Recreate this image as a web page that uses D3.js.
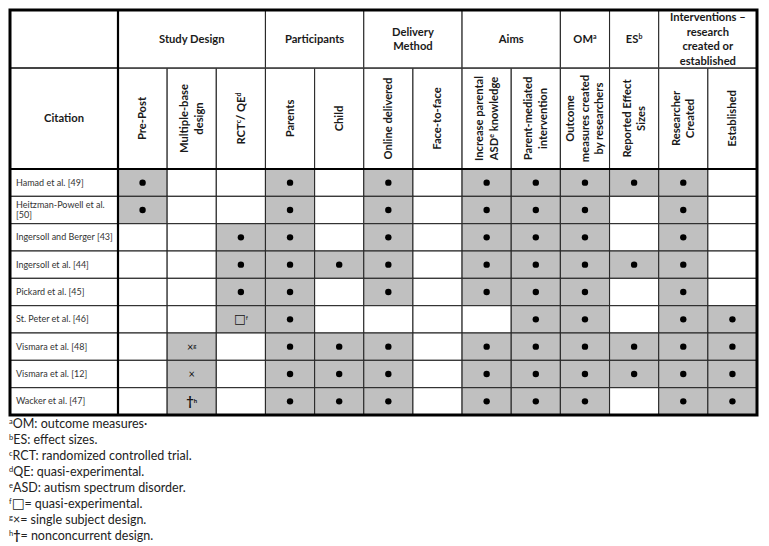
<!DOCTYPE html>
<html><head><meta charset="utf-8">
<script src="https://cdn.jsdelivr.net/npm/d3@7"></script>
<style>body{margin:0;background:#fff}svg{display:block}text{font-family:Lato,"Open Sans",sans-serif}</style>
</head><body><svg id="c" width="769" height="546"></svg>
<script>
// ---- data ----
const citations = ["Hamad et al. [49]","Heitzman-Powell et al.|[50]","Ingersoll and Berger [43]","Ingersoll et al. [44]","Pickard et al. [45]","St. Peter et al. [46]","Vismara et al. [48]","Vismara et al. [12]","Wacker et al. [47]"];
const columns = ["Pre-Post","Multiple-base|design","RCT^c^/ QE^d^","Parents","Child","Online delivered","Face-to-face","Increase parental|ASD^e^ knowledge","Parent-mediated|intervention","Outcome|measures created|by researchers","Reported Effect|Sizes","Researcher|Created","Established"];
const groups = [
  {label:"Study Design", span:3},
  {label:"Participants", span:2},
  {label:"Delivery|Method", span:2},
  {label:"Aims", span:2},
  {label:"OM^a^", span:1},
  {label:"ES^b^", span:1},
  {label:"Interventions –|research|created or|established", span:2}
];
// marks: D = dot, S = square (quasi-experimental), X = single subject, XG = × with note g, T = dagger, "" = none
const marks = [
  ["D","","","D","","D","","D","D","D","D","D",""],
  ["D","","","D","","D","","D","D","D","","D",""],
  ["","","D","D","","D","","D","D","D","","D",""],
  ["","","D","D","D","D","","D","D","D","D","D",""],
  ["","","D","D","","D","","D","D","D","","D",""],
  ["","","S","D","","","","","D","D","","D","D"],
  ["","XG","","D","D","D","","D","D","D","D","D","D"],
  ["","X","","D","D","D","","D","D","D","D","D","D"],
  ["","T","","D","D","D","","D","D","D","","D","D"]
];
const symbolText = {S:"□^f^", XG:"×^g^", X:"×", T:"†^h^"};
const footnotes = ["^a^OM: outcome measures·","^b^ES: effect sizes.","^c^RCT: randomized controlled trial.","^d^QE: quasi-experimental.","^e^ASD: autism spectrum disorder.","^f^□= quasi-experimental.","^g^×= single subject design.","^h^†= nonconcurrent design."];

// ---- layout ----
const L = 10, R = 757, T = 10, H1 = 68, H2 = 169, B = 415, CIT = 118;
const svg = d3.select("#c");
const x = d3.scaleBand().domain(d3.range(columns.length)).range([CIT, R]);
const y = d3.scaleBand().domain(d3.range(citations.length)).range([H2, B]);
const GRAY = "#c0c0c0", LINE = "#2a2a2a";

function addRich(sel, str, supSize){
  str.split("^").forEach((s,i)=>{
    if(!s) return;
    const t = sel.append("tspan").text(s);
    if(i%2===1){ t.attr("font-size", supSize).attr("baseline-shift","super"); }
    else if(s==="□"){ t.attr("font-size", 12.5).attr("font-family","DejaVu Sans"); }
  });
}

// body cells
const rows = svg.append("g").selectAll("g").data(marks).join("g");
rows.each(function(row, ri){
  const g = d3.select(this);
  row.forEach((m, ci)=>{
    g.append("rect").attr("x", x(ci)).attr("y", y(ri)).attr("width", x.bandwidth()).attr("height", y.bandwidth())
      .attr("fill", m ? GRAY : "#fff").attr("stroke", LINE).attr("stroke-width", 1.1);
    const cx = x(ci) + x.bandwidth()/2, cy = y(ri) + y.bandwidth()/2;
    if(m === "D"){
      g.append("circle").attr("cx", cx).attr("cy", cy).attr("r", 3.2).attr("fill", "#000");
    } else if(m){
      const t = g.append("text").attr("x", cx).attr("y", cy).attr("dy","0.35em").attr("text-anchor","middle")
        .attr("font-size", m==="T"?13:11).attr("font-weight", m==="T"?700:400).attr("fill","#111");
      addRich(t, symbolText[m], 6);
    }
  });
});
// citation cells
citations.forEach((c, ri)=>{
  svg.append("rect").attr("x", L).attr("y", y(ri)).attr("width", CIT-L).attr("height", y.bandwidth())
    .attr("fill","#fff").attr("stroke", LINE).attr("stroke-width",1.1);
  const lines = c.split("|");
  const t = svg.append("text").attr("font-size", 9).attr("fill","#333");
  const cy = y(ri) + y.bandwidth()/2;
  lines.forEach((ln, k)=>{
    t.append("tspan").attr("x", 16).attr("y", cy + (k-(lines.length-1)/2)*10.5).attr("dy","0.35em").text(ln);
  });
});

// header row 2: rotated column labels
columns.forEach((c, ci)=>{
  svg.append("rect").attr("x", x(ci)).attr("y", H1).attr("width", x.bandwidth()).attr("height", H2-H1)
    .attr("fill","#fff").attr("stroke", LINE).attr("stroke-width",1.1);
  const lines = c.split("|");
  const g = svg.append("g").attr("transform", `translate(${x(ci)+x.bandwidth()/2},${(H1+H2)/2}) rotate(-90)`);
  const t = g.append("text").attr("text-anchor","middle").attr("font-size", 11.2).attr("font-weight",700).attr("fill","#1a1a1a");
  lines.forEach((ln,k)=>{
    const ts = t.append("tspan").attr("x",0).attr("y",(k-(lines.length-1)/2)*14.5).attr("dy","0.35em");
    addRich(ts, ln, 7);
  });
});

// header row 1: groups
let start = 0;
groups.forEach(gp=>{
  const x0 = x(start), x1 = x(start+gp.span-1) + x.bandwidth();
  svg.append("rect").attr("x", x0).attr("y", T).attr("width", x1-x0).attr("height", H1-T)
    .attr("fill","#fff").attr("stroke", LINE).attr("stroke-width",1.1);
  const lines = gp.label.split("|");
  const t = svg.append("text").attr("text-anchor","middle").attr("font-size", 11.2).attr("font-weight",700).attr("fill","#1a1a1a");
  lines.forEach((ln,k)=>{
    const ts = t.append("tspan").attr("x",(x0+x1)/2).attr("y",(T+H1)/2 + (k-(lines.length-1)/2)*14.5).attr("dy","0.35em");
    addRich(ts, ln, 7);
  });
  start += gp.span;
});

// citation header
svg.append("rect").attr("x", L).attr("y", T).attr("width", CIT-L).attr("height", H2-T).attr("fill","#fff");
svg.append("text").attr("x",(L+CIT)/2).attr("y",(H1+H2)/2).attr("dy","0.35em").attr("text-anchor","middle")
  .attr("font-size",11.2).attr("font-weight",700).attr("fill","#1a1a1a").text("Citation");

// heavy rules
svg.append("line").attr("x1",L).attr("x2",CIT).attr("y1",H1).attr("y2",H1).attr("stroke","#444").attr("stroke-width",1.8);
svg.append("line").attr("x1",CIT).attr("x2",R).attr("y1",H1).attr("y2",H1).attr("stroke","#444").attr("stroke-width",1.2);
svg.append("line").attr("x1",L).attr("x2",R).attr("y1",H2).attr("y2",H2).attr("stroke","#000").attr("stroke-width",2.2);
svg.append("line").attr("x1",CIT).attr("x2",CIT).attr("y1",T).attr("y2",B).attr("stroke","#000").attr("stroke-width",2.2);
svg.append("rect").attr("x",L).attr("y",T).attr("width",R-L).attr("height",B-T).attr("fill","none").attr("stroke","#000").attr("stroke-width",3);

// footnotes
footnotes.forEach((f,i)=>{
  const t = svg.append("text").attr("x",9).attr("y",424 + i*16).attr("dy","0.35em").attr("font-size",12.5).attr("fill","#222");
  f.split("^").forEach((s,k)=>{
    if(!s) return;
    if(k%2===1){ t.append("tspan").attr("font-size",7.5).attr("baseline-shift","super").text(s); }
    else {
      s.split(/(†|□)/).forEach(p=>{
        if(!p) return;
        const ts = t.append("tspan").text(p);
        if(p==="†") ts.attr("font-weight",700);
        if(p==="□") ts.attr("font-size",13.5).attr("font-family","DejaVu Sans");
      });
    }
  });
});
</script></body></html>
